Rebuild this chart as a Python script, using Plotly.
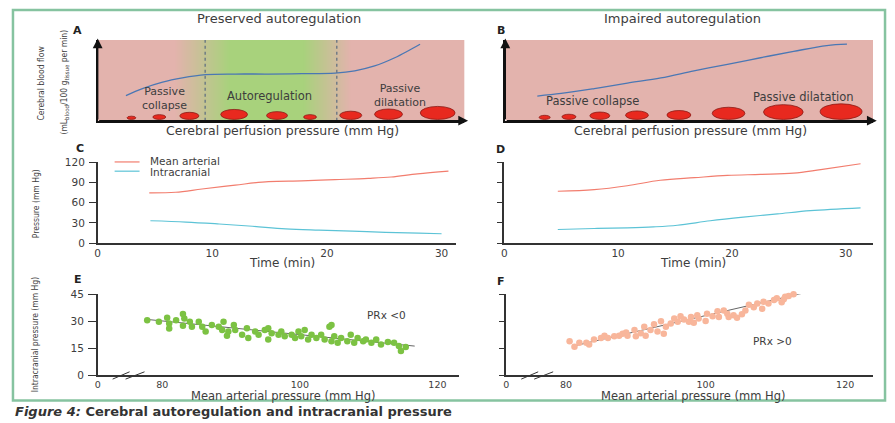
import plotly.graph_objects as go

W, H = 895, 423

def px(x):
    return x / W

def py(y):
    return 1 - y / H

# ---------------- data ----------------
# Panel A: preserved autoregulation (schematic CBF vs CPP, 0-100 arbitrary units)
cpp_A = [7.7, 12.2, 17.7, 23.1, 29.4, 37.5, 46.7, 55.7, 64.7, 70.1, 75.5, 81.0, 84.7, 87.9]
cbf_A = [31.0, 39.8, 47.8, 53.0, 57.0, 57.8, 57.8, 58.2, 59.0, 61.8, 67.8, 78.0, 86.7, 94.8]
autoreg_limits = [29.3, 65.2]
vessel_cpp_A = [9.2, 16.8, 25.0, 37.2, 48.9, 57.9, 69.0, 79.3, 92.7]
vessel_diam_A = [2.4, 3.5, 5.2, 7.3, 5.7, 3.5, 6.0, 7.6, 9.5]

# Panel B: impaired autoregulation
cpp_B = [8.7, 15.2, 24.2, 33.2, 42.3, 51.3, 60.4, 69.4, 78.4, 87.4, 92.9]
cbf_B = [30.5, 33.7, 39.8, 46.6, 53.0, 61.8, 69.9, 78.0, 85.9, 93.1, 94.8]
vessel_cpp_B = [10.7, 17.3, 25.7, 35.8, 47.2, 60.7, 75.6, 91.3]
vessel_diam_B = [3.0, 3.8, 5.4, 6.2, 6.5, 8.9, 10.8, 11.4]

# Panel C: time course, preserved
time_C_map = [4.5, 6.8, 9.1, 12.0, 14.9, 17.8, 20.7, 23.6, 25.6, 27.9, 30.6]
map_C = [74.7, 75.6, 80.5, 86.3, 91.5, 92.5, 94.4, 96.3, 98.3, 103.0, 107.0]
time_C_icp = [4.6, 7.7, 10.6, 13.5, 16.4, 19.3, 22.2, 25.1, 28.0, 30.0]
icp_C = [33.2, 31.3, 28.4, 25.0, 21.2, 19.3, 17.8, 15.9, 14.9, 13.9]

# Panel D: time course, impaired
time_D_map = [4.7, 7.9, 10.8, 13.7, 16.7, 19.6, 22.5, 25.4, 27.8, 31.3]
map_D = [77.1, 79.5, 85.3, 93.5, 97.3, 100.7, 102.2, 104.0, 109.4, 118.0]
time_D_icp = [4.7, 7.9, 10.8, 13.1, 15.2, 18.1, 21.0, 24.0, 26.9, 31.3]
icp_D = [20.2, 21.7, 22.7, 24.1, 26.5, 33.2, 38.6, 43.4, 48.2, 52.5]

# Panel E: MAP vs ICP, PRx < 0
map_E = [77.8, 79.5, 80.7, 81.0, 81.0, 82.0, 83.0, 83.2, 83.0, 84.0, 84.3, 85.3, 85.8, 86.3,
         87.2, 88.2, 88.9, 88.7, 89.6, 89.4, 90.4, 90.6, 91.6, 92.3, 92.5, 93.5, 94.0, 94.9,
         95.4, 95.4, 95.9, 96.9, 97.3, 97.8, 98.8, 99.3, 99.8, 100.2, 100.7, 101.2, 101.7,
         102.4, 103.1, 103.6, 104.3, 104.6, 104.6, 105.0, 105.5, 106.0, 106.9, 107.4, 107.9,
         108.4, 109.2, 109.6, 110.4, 111.1, 111.8, 112.8, 113.7, 114.4, 114.7, 115.4]
icp_E = [30.6, 29.7, 32.0, 28.8, 26.0, 30.6, 34.0, 31.5, 27.5, 29.7, 27.0, 29.7, 27.0, 24.3,
         27.9, 27.0, 29.7, 25.2, 24.3, 22.0, 27.9, 25.2, 22.5, 26.1, 20.7, 24.3, 22.5, 25.2,
         26.1, 19.8, 23.4, 22.5, 24.3, 21.6, 22.5, 20.7, 24.3, 21.6, 25.2, 19.8, 22.5,
         20.7, 22.5, 19.8, 27.0, 27.9, 18.9, 21.6, 18.0, 20.7, 18.9, 22.5, 18.0,
         20.7, 18.9, 19.8, 18.0, 19.8, 17.1, 18.4, 18.0, 16.2, 13.5, 15.7]
fit_E_x = [78.1, 116.7]
fit_E_y = [30.9, 16.2]

# Panel F: MAP vs ICP, PRx > 0
map_F = [80.5, 81.2, 81.9, 82.9, 83.3, 84.0, 85.0, 85.5, 86.0, 86.9, 87.6, 88.1, 88.6, 88.8,
         89.8, 90.0, 90.7, 91.2, 91.4, 92.1, 92.6, 93.1, 93.6, 94.0, 94.3, 95.0, 95.5, 96.0,
         96.4, 96.9, 97.6, 97.9, 98.3, 98.8, 99.0, 100.0, 100.2, 101.0, 101.7, 101.9, 102.6,
         103.1, 103.3, 104.0, 104.5, 105.2, 105.7, 106.2, 106.9, 107.4, 108.1, 108.3, 109.0,
         109.8, 110.2, 110.9, 111.2, 111.4, 111.9, 112.6, 113.6]
icp_F = [18.9, 15.8, 18.0, 18.0, 17.1, 19.8, 20.7, 22.0, 20.7, 21.6, 22.0, 23.0, 23.8, 22.0,
         25.2, 21.6, 23.4, 27.0, 22.0, 25.2, 28.4, 24.3, 30.0, 23.0, 27.0, 28.8, 31.5, 29.7,
         32.8, 31.0, 29.7, 32.4, 29.2, 33.3, 31.5, 30.2, 34.2, 32.8, 35.6, 32.4, 36.0,
         34.2, 32.4, 33.3, 31.9, 33.9, 36.0, 39.2, 37.8, 39.9, 36.9, 40.9, 39.9,
         41.8, 42.8, 40.5, 42.3, 43.6, 44.1, 45.0, 46.8]
fit_F_x = [81.0, 113.8]
fit_F_y = [16.2, 45.5]

pressure_ticks = [0, 30, 60, 90, 120]
time_ticks = [0, 10, 20, 30]
icp_ticks = [0, 15, 30, 45]
map_ticks = [80, 100, 120]

# ---------------- styles ----------------
FONT = "DejaVu Sans, Verdana, sans-serif"
NARROW = "Liberation Sans Narrow, DejaVu Sans Condensed, Arial Narrow, sans-serif"
TXT = "#3d3d3d"
AX = "#333333"
PINK = "#e3b3ad"
GREEN = "#a8d27c"
RED_V = "#e8291f"
BLUE = "#4a77b4"
MAPC = "#f27d6e"
ICPC = "#5cc3d6"
GREEN_DOT = "#7cc243"
SALMON_DOT = "#f8b69b"

fig = go.Figure()

# Panel A background (pink -> green -> pink)
bg_x = [-5, 21, 36, 56, 69, 105]
bg_z = [0, 0, 1, 1, 0, 0]
fig.add_trace(go.Heatmap(x=bg_x, y=[-10, 110], z=[bg_z, bg_z], zsmooth="best",
                         colorscale=[[0, PINK], [1, GREEN]], zmin=0, zmax=1,
                         showscale=False, hoverinfo="skip", xaxis="x", yaxis="y"))

fig.add_trace(go.Scatter(x=cpp_A, y=cbf_A, mode="lines", line=dict(color=BLUE, width=1.3, shape="spline"),
                         xaxis="x", yaxis="y", hoverinfo="skip"))
fig.add_trace(go.Scatter(x=cpp_B, y=cbf_B, mode="lines", line=dict(color=BLUE, width=1.3, shape="spline"),
                         xaxis="x2", yaxis="y2", hoverinfo="skip"))

# C and D lines
fig.add_trace(go.Scatter(x=time_C_map, y=map_C, mode="lines", line=dict(color=MAPC, width=1.2, shape="spline"),
                         xaxis="x3", yaxis="y3"))
fig.add_trace(go.Scatter(x=time_C_icp, y=icp_C, mode="lines", line=dict(color=ICPC, width=1.2, shape="spline"),
                         xaxis="x3", yaxis="y3"))
fig.add_trace(go.Scatter(x=time_D_map, y=map_D, mode="lines", line=dict(color=MAPC, width=1.2, shape="spline"),
                         xaxis="x4", yaxis="y4"))
fig.add_trace(go.Scatter(x=time_D_icp, y=icp_D, mode="lines", line=dict(color=ICPC, width=1.2, shape="spline"),
                         xaxis="x4", yaxis="y4"))

# E and F scatter
fig.add_trace(go.Scatter(x=fit_E_x, y=fit_E_y, mode="lines", line=dict(color="#666666", width=1),
                         xaxis="x5", yaxis="y5"))
fig.add_trace(go.Scatter(x=map_E, y=icp_E, mode="markers", marker=dict(color=GREEN_DOT, size=6.5),
                         xaxis="x5", yaxis="y5", cliponaxis=False))
fig.add_trace(go.Scatter(x=fit_F_x, y=fit_F_y, mode="lines", line=dict(color="#666666", width=1),
                         xaxis="x6", yaxis="y6", cliponaxis=False))
fig.add_trace(go.Scatter(x=map_F, y=icp_F, mode="markers", marker=dict(color=SALMON_DOT, size=6.5),
                         xaxis="x6", yaxis="y6", cliponaxis=False))

shapes = []
# pink background for B
shapes.append(dict(type="rect", xref="x2", yref="y2", x0=0, x1=100, y0=0, y1=100,
                   fillcolor=PINK, line=dict(width=0), layer="below"))
# autoregulation limits
for lim in autoreg_limits:
    shapes.append(dict(type="line", xref="x", yref="y", x0=lim, x1=lim, y0=0, y1=100,
                       line=dict(color="#5a6b80", width=1.2, dash="dot")))
# vessels
V_BASE = 1.5
V_ASPECT = 1.7
for axn, cs, ds in (("", vessel_cpp_A, vessel_diam_A), ("2", vessel_cpp_B, vessel_diam_B)):
    for c, d in zip(cs, ds):
        shapes.append(dict(type="circle", xref="x" + axn, yref="y" + axn,
                           x0=c - d / 2, x1=c + d / 2, y0=V_BASE, y1=V_BASE + d * V_ASPECT,
                           fillcolor=RED_V, line=dict(color="#8a1c16", width=0.8)))
# legend lines (C)
shapes.append(dict(type="line", xref="paper", yref="paper", x0=px(112), x1=px(137), y0=py(160.5), y1=py(160.5),
                   line=dict(color=MAPC, width=1.2)))
shapes.append(dict(type="line", xref="paper", yref="paper", x0=px(112), x1=px(137), y0=py(170), y1=py(170),
                   line=dict(color=ICPC, width=1.2)))
# axis break marks (E, F)
for x0 in (95, 505):
    for a, b in ((15, 32), (28, 47)):
        shapes.append(dict(type="line", xref="paper", yref="paper", x0=px(x0 + a), x1=px(x0 + b),
                           y0=py(384), y1=py(376.5), line=dict(color=AX, width=1)))
# green frame
shapes.append(dict(type="rect", xref="paper", yref="paper", x0=px(10), x1=px(885), y0=py(406), y1=py(4),
                   line=dict(color="#86c3a0", width=2.5), fillcolor="rgba(0,0,0,0)"))

annotations = []

def txt(text, x, y, size=11, family=FONT, color=TXT, xanchor="center", textangle=0, yanchor="middle"):
    annotations.append(dict(text=text, x=px(x), y=py(y), xref="paper", yref="paper", showarrow=False,
                            xanchor=xanchor, yanchor=yanchor, textangle=textangle,
                            font=dict(size=size, family=family, color=color)))

txt("Preserved autoregulation", 277, 13, 13)
txt("Impaired autoregulation", 682, 13, 13)
for lab, x, y in (("A", 75, 25), ("B", 500, 25), ("C", 77, 147), ("D", 499, 148), ("E", 75, 281), ("F", 500, 284)):
    txt("<b>" + lab + "</b>", x, y, 11, color="#222222")

txt("Passive<br>collapse", 162, 95.5, 11)
txt("Autoregulation", 267, 92.5, 11.5)
txt("Passive<br>dilatation", 398, 92, 11)
txt("Passive collapse", 591, 98, 11.5)
txt("Passive dilatation", 803, 94, 11.5)
txt("Cerebral perfusion pressure (mm Hg)", 280, 128, 12.5)
txt("Cerebral perfusion pressure (mm Hg)", 690, 128, 12.5)
txt("Cerebral blood flow", 38, 80, 8.5, NARROW, textangle=-90)
txt("(mL<sub>blood</sub>/100 g<sub>tissue</sub> per min)", 62, 78, 8.5, NARROW, textangle=-90)

txt("Mean arterial", 145, 159.5, 10.5, xanchor="left")
txt("Intracranial", 145, 170.5, 10.5, xanchor="left")
txt("Time (min)", 280, 264.5, 12)
txt("Time (min)", 692, 264.5, 12)
txt("Pressure (mm Hg)", 33, 203, 8.5, NARROW, textangle=-90)

txt("PRx &lt;0", 385, 318, 10.5)
txt("PRx &gt;0", 772, 345, 10.5)
txt("Mean arterial pressure (mm Hg)", 281, 401, 11.5)
txt("Mean arterial pressure (mm Hg)", 692, 401, 11.5)
txt("Intracranial pressure (mm Hg)", 33, 338, 8.5, NARROW, textangle=-90)

txt("<b><i>Figure 4:</i> Cerebral autoregulation and intracranial pressure</b>", 10, 417.5, 13,
    color="#333333", xanchor="left")

# axis arrows for A and B
for axn in ("", "2"):
    annotations.append(dict(x=0, y=102, ax=0, ay=0, xref="x" + axn, yref="y" + axn,
                            axref="x" + axn, ayref="y" + axn, showarrow=True, arrowhead=2,
                            arrowsize=1.4, arrowwidth=1.4, arrowcolor="#111111", text=""))
    annotations.append(dict(x=101, y=0, ax=0, ay=0, xref="x" + axn, yref="y" + axn,
                            axref="x" + axn, ayref="y" + axn, showarrow=True, arrowhead=2,
                            arrowsize=1.4, arrowwidth=1.4, arrowcolor="#111111", text=""))

tickfont = dict(size=10.5, family=FONT, color=TXT)
base_ax = dict(showgrid=False, zeroline=False, showline=True, linecolor=AX, linewidth=1.5,
               tickfont=tickfont, fixedrange=True, ticklabelstandoff=0)

def ax(**kw):
    d = dict(base_ax)
    d.update(kw)
    return d

xA = ax(domain=[px(95), px(463)], range=[0, 100], showticklabels=False, ticks="", anchor="y",
        linecolor="#111111")
yA = ax(domain=[py(118), py(35)], range=[0, 100], showticklabels=False, ticks="", anchor="x",
        linecolor="#111111")
xB = ax(domain=[px(504), px(873)], range=[0, 100], showticklabels=False, ticks="", anchor="y2",
        linecolor="#111111")
yB = ax(domain=[py(118), py(35)], range=[0, 100], showticklabels=False, ticks="", anchor="x2",
        linecolor="#111111")

xC = ax(domain=[px(95), px(455)], range=[0, 31.3], tickvals=time_ticks, ticks="", anchor="y3")
yC = ax(domain=[py(244), py(161)], range=[0, 120], tickvals=pressure_ticks, ticks="outside",
        ticklen=7, tickcolor=AX, tickwidth=1.2, anchor="x3", ticklabelstandoff=2)
xD = ax(domain=[px(503), px(873)], range=[0, 32.4], tickvals=time_ticks, ticks="", anchor="y4")
yD = ax(domain=[py(244), py(161)], range=[0, 120], tickvals=pressure_ticks, ticks="outside",
        ticklen=6, tickcolor=AX, tickwidth=1.2, showticklabels=False, anchor="x4")

e0 = 70.6
xE = ax(domain=[px(95), px(458)], range=[e0, e0 + (458 - 95) / 6.9], tickvals=[e0] + map_ticks,
        ticktext=["0"] + [str(v) for v in map_ticks], ticks="", anchor="y5",
        tickfont=dict(size=9.5, family=FONT, color=TXT))
yE = ax(domain=[py(380), py(296.7)], range=[0, 45], tickvals=icp_ticks, ticks="outside",
        ticklen=8, tickcolor=AX, tickwidth=1.2, anchor="x5", ticklabelstandoff=2)
f0 = 80 - 60 / 7.0
xF = ax(domain=[px(505), px(873)], range=[f0, f0 + 368 / 7.0], tickvals=[f0] + map_ticks,
        ticktext=["0"] + [str(v) for v in map_ticks], ticks="", anchor="y6",
        tickfont=dict(size=9.5, family=FONT, color=TXT))
yF = ax(domain=[py(380), py(296.7)], range=[0, 45], tickvals=icp_ticks, ticks="outside",
        ticklen=6, tickcolor=AX, tickwidth=1.2, showticklabels=False, anchor="x6")

fig.update_layout(
    width=W, height=H, margin=dict(l=0, r=0, t=0, b=0),
    paper_bgcolor="white", plot_bgcolor="white", showlegend=False,
    font=dict(family=FONT, color=TXT),
    xaxis=xA, yaxis=yA, xaxis2=xB, yaxis2=yB, xaxis3=xC, yaxis3=yC,
    xaxis4=xD, yaxis4=yD, xaxis5=xE, yaxis5=yE, xaxis6=xF, yaxis6=yF,
    shapes=shapes, annotations=annotations,
)

fig.write_html("out.html", config={"displayModeBar": False},
               post_script="document.body.style.margin='0px';")
